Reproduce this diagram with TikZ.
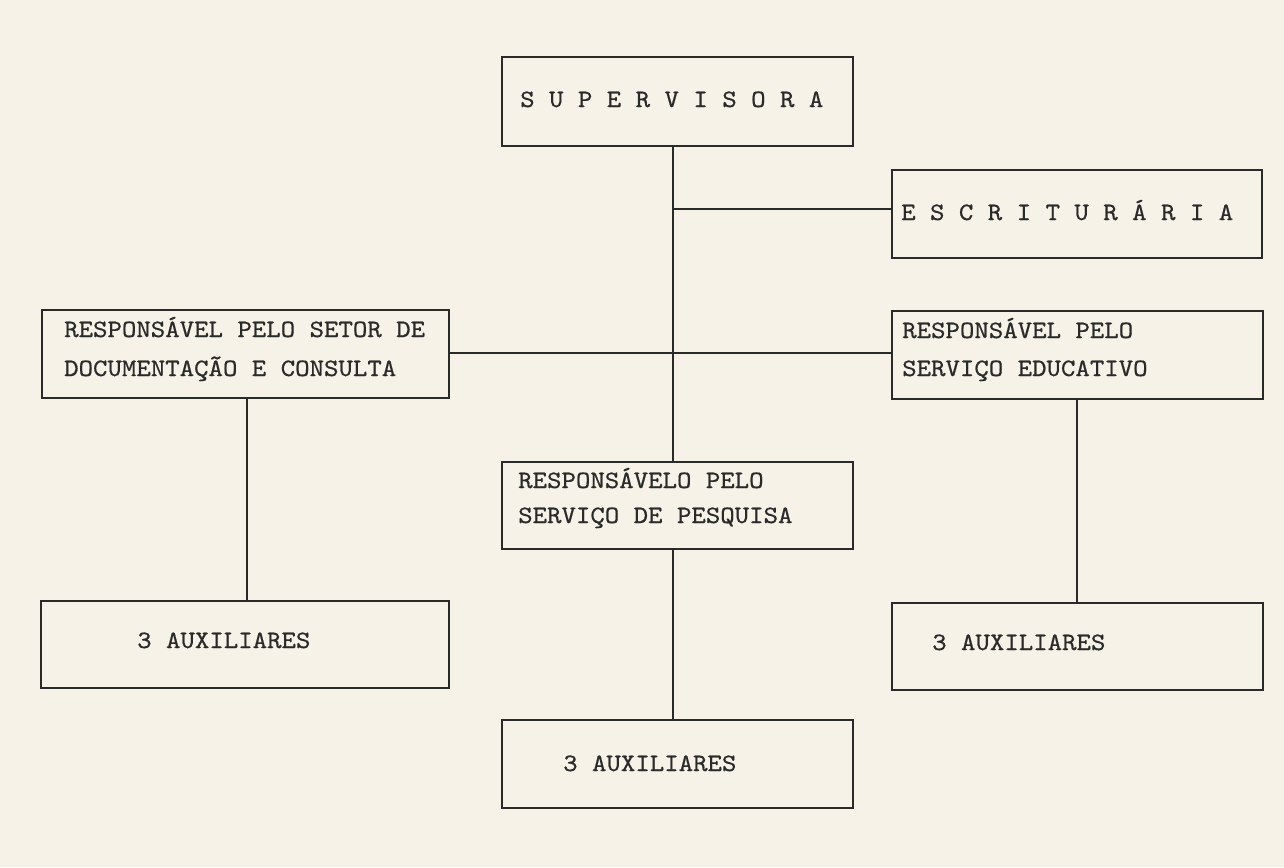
\documentclass[tikz,border=0pt]{standalone}
\usepackage{fontspec}
\setmonofont[FakeStretch=1.1,FakeBold=0.6]{lmmono10-regular.otf}
\definecolor{paper}{HTML}{F6F2E7}
\definecolor{ink}{HTML}{2A2A2A}
\begin{document}
\begin{tikzpicture}[x=1pt,y=-1pt,
  box/.style={draw=ink, line width=1.6pt, anchor=north west, inner sep=0pt},
  txt/.style={anchor=base west, inner sep=0pt, text=ink, font=\fontsize{25}{30}\selectfont\ttfamily},
  conn/.style={draw=ink, line width=1.5pt}]
\fill[paper] (0,0) rectangle (1284,867);
\useasboundingbox (0,0) rectangle (1284,867);

% boxes
\node[box, minimum width=351pt, minimum height=89pt] (sup)  at (501,56)  {};
\node[box, minimum width=370pt, minimum height=88pt] (esc)  at (891,169) {};
\node[box, minimum width=407pt, minimum height=88pt] (doc)  at (41,309)  {};
\node[box, minimum width=371pt, minimum height=88pt] (edu)  at (891,310) {};
\node[box, minimum width=351pt, minimum height=87pt] (pes)  at (501,461) {};
\node[box, minimum width=408pt, minimum height=87pt] (auxa) at (40,600)  {};
\node[box, minimum width=371pt, minimum height=87pt] (auxc) at (891,602) {};
\node[box, minimum width=351pt, minimum height=88pt] (auxb) at (501,719) {};

% texts
\node[txt] (supT)  at (520,107) {S U P E R V I S O R A};
\node[txt] (escT)  at (901,220) {E S C R I T U R Á R I A};
\node[txt] (docT1) at (64,337)  {RESPONSÁVEL PELO SETOR DE};
\node[txt] (docT2) at (64,376)  {DOCUMENTAÇÃO E CONSULTA};
\node[txt] (eduT1) at (902,338) {RESPONSÁVEL PELO};
\node[txt] (eduT2) at (902,376) {SERVIÇO EDUCATIVO};
\node[txt] (pesT1) at (518,488) {RESPONSÁVELO PELO};
\node[txt] (pesT2) at (518,523) {SERVIÇO DE PESQUISA};
\node[txt] (auxaT) at (137,648) {3 AUXILIARES};
\node[txt] (auxcT) at (932,650) {3 AUXILIARES};
\node[txt] (auxbT) at (563,771) {3 AUXILIARES};

% connectors
\coordinate (tr) at (673,0);
\coordinate (lx) at (247,0);
\coordinate (rx) at (1077,0);
\coordinate (j1) at (673,209);
\coordinate (j2) at (673,353);
\draw[conn] (sup.south -| tr) -- (pes.north -| tr);
\draw[conn] (j1) -- (j1 -| esc.west);
\draw[conn] (j2 -| doc.east) -- (j2 -| edu.west);
\draw[conn] (doc.south -| lx) -- (auxa.north -| lx);
\draw[conn] (edu.south -| rx) -- (auxc.north -| rx);
\draw[conn] (pes.south -| tr) -- (auxb.north -| tr);
\end{tikzpicture}
\end{document}
